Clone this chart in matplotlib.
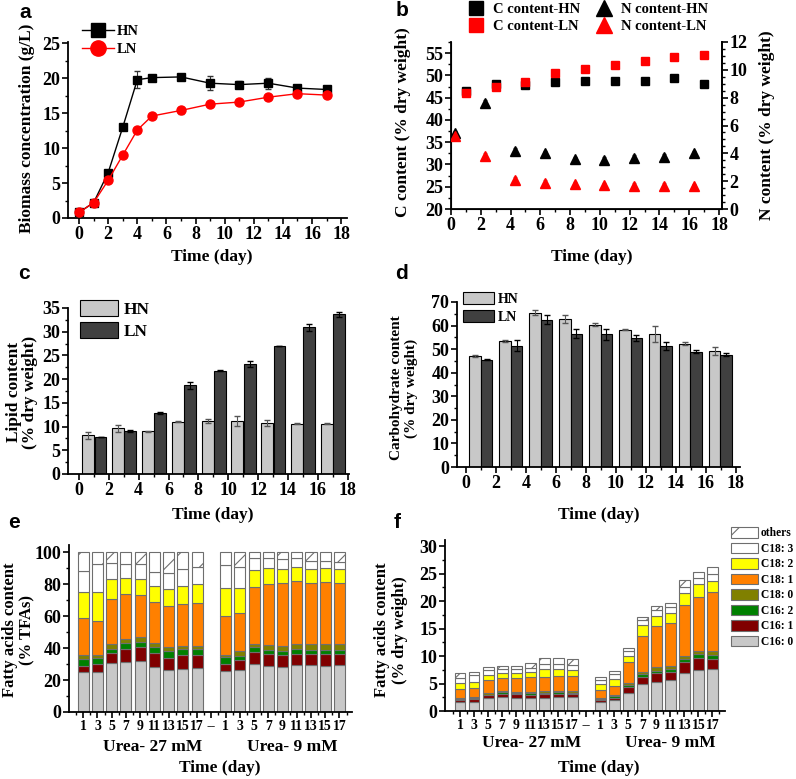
import numpy as np
import matplotlib
matplotlib.use('Agg')
import matplotlib.pyplot as plt
from matplotlib.ticker import MultipleLocator, FixedLocator
from matplotlib.patches import Patch
from matplotlib.lines import Line2D

plt.rcParams['font.family'] = ['Liberation Serif', 'DejaVu Serif']
plt.rcParams['font.weight'] = 'bold'
plt.rcParams['axes.labelweight'] = 'bold'
plt.rcParams['hatch.linewidth'] = 0.8
plt.rcParams['hatch.color'] = '#555555'

# ---------------- data ----------------
# (a) biomass
days_a = [0, 1, 2, 3, 4, 5, 7, 9, 11, 13, 15, 17]
biomass_hn = [0.8, 2.2, 6.5, 13.0, 19.8, 20.1, 20.2, 19.3, 19.1, 19.3, 18.6, 18.4]
biomass_hn_err = [0.1, 0.2, 0.2, 0.2, 1.2, 0.2, 0.2, 1.0, 0.5, 0.8, 0.3, 0.2]
biomass_ln = [0.8, 2.2, 5.4, 9.0, 12.6, 14.6, 15.4, 16.3, 16.6, 17.3, 17.8, 17.6]
biomass_ln_err = [0.1, 0.2, 0.2, 0.2, 0.2, 0.2, 0.5, 0.3, 0.2, 0.2, 0.3, 0.2]

# (b) C and N content
days_c = [1, 3, 5, 7, 9, 11, 13, 15, 17]
c_hn = [46.6, 48.1, 47.8, 48.6, 48.8, 48.8, 48.8, 49.5, 48.1]
c_ln = [46.0, 47.4, 48.6, 50.5, 51.5, 52.3, 53.3, 54.2, 54.6]
days_n = [0.3, 2.3, 4.3, 6.3, 8.3, 10.3, 12.3, 14.3, 16.3]
n_hn = [5.44, 7.64, 4.19, 4.0, 3.57, 3.52, 3.69, 3.76, 4.0]
n_ln = [5.24, 3.81, 2.08, 1.85, 1.77, 1.70, 1.68, 1.68, 1.63]

# (c) lipid, (d) carbohydrate
bar_days = [1, 3, 5, 7, 9, 11, 13, 15, 17]
lipid_hn = [8.15, 9.6, 9.0, 11.0, 11.2, 11.2, 10.75, 10.6, 10.6]
lipid_hn_err = [0.7, 0.7, 0.1, 0.1, 0.4, 1.0, 0.6, 0.15, 0.15]
lipid_ln = [7.8, 9.1, 12.9, 18.7, 21.8, 23.2, 27.0, 30.9, 33.7]
lipid_ln_err = [0.1, 0.15, 0.15, 0.8, 0.1, 0.7, 0.05, 0.7, 0.5]
carb_hn = [47.2, 53.5, 65.4, 62.8, 60.4, 58.3, 56.5, 52.3, 49.2]
carb_hn_err = [0.4, 0.4, 1.1, 1.5, 0.5, 0.3, 3.3, 0.7, 1.8]
carb_ln = [45.5, 51.5, 62.5, 56.6, 56.3, 54.8, 51.3, 49.0, 47.7]
carb_ln_err = [0.3, 2.3, 2.0, 2.0, 2.3, 1.3, 1.6, 0.8, 0.6]

# (e) fatty acids, % TFAs ; first 9 = Urea 27 mM, last 9 = Urea 9 mM
fa_names = ['C16: 0', 'C16: 1', 'C16: 2', 'C18: 0', 'C18: 1', 'C18: 2', 'C18: 3', 'others']
fa_colors = ['#c8c8c8', '#800000', '#008000', '#808000', '#ff8000', '#ffff00', '#ffffff', '#ffffff']
e_c160 = [24.9, 24.9, 30.8, 31.4, 31.8, 28.2, 26.2, 27.2, 27.6, 25.5, 26.6, 30.3, 28.9, 28.2, 29.3, 29.3, 28.9, 29.7]
e_c161 = [4.2, 5.4, 6.4, 8.3, 8.6, 9.0, 7.9, 8.4, 8.0, 4.4, 5.8, 7.4, 7.3, 7.4, 7.3, 6.9, 7.3, 6.9]
e_c162 = [3.8, 3.8, 2.1, 3.8, 3.5, 3.6, 4.0, 4.1, 4.1, 4.6, 2.7, 2.7, 2.5, 2.7, 2.7, 2.9, 2.9, 2.5]
e_c180 = [3.1, 1.9, 3.0, 2.5, 2.8, 2.7, 2.3, 1.7, 1.7, 1.1, 3.0, 2.5, 3.1, 3.1, 3.0, 3.2, 3.2, 3.2]
e_c181 = [23.0, 21.3, 28.2, 27.6, 26.5, 25.1, 25.9, 26.0, 26.6, 24.7, 24.2, 35.1, 38.3, 39.1, 39.7, 38.7, 38.9, 38.7]
e_c182 = [16.3, 18.0, 12.6, 10.1, 10.1, 10.5, 10.7, 11.7, 12.1, 17.5, 15.5, 10.9, 9.9, 9.0, 9.0, 8.5, 8.8, 8.5]
e_c183 = [13.2, 17.2, 10.0, 9.0, 9.4, 8.8, 9.8, 10.2, 10.5, 14.3, 13.2, 7.3, 6.2, 6.1, 5.2, 5.3, 4.8, 4.2]
e_other = [11.5, 7.5, 6.9, 7.3, 7.3, 12.1, 13.2, 10.7, 9.4, 7.9, 9.0, 3.8, 3.8, 4.4, 3.8, 5.2, 5.2, 6.3]

# (f) fatty acids, % dry weight
f_c160 = [1.7, 1.7, 2.36, 2.48, 2.42, 2.3, 2.42, 2.48, 2.55, 1.58, 2.0, 3.33, 4.85, 5.33, 5.64, 6.85, 7.45, 7.58]
f_c161 = [0.24, 0.42, 0.49, 0.67, 0.61, 0.67, 0.67, 0.61, 0.54, 0.36, 0.42, 1.09, 1.39, 1.52, 1.51, 2.0, 2.25, 1.81]
f_c162 = [0.26, 0.24, 0.12, 0.24, 0.24, 0.24, 0.24, 0.30, 0.24, 0.18, 0.25, 0.37, 0.43, 0.48, 0.49, 0.54, 0.6, 0.79]
f_c180 = [0.22, 0.24, 0.24, 0.25, 0.25, 0.24, 0.31, 0.25, 0.31, 0.18, 0.23, 0.24, 0.48, 0.61, 0.54, 0.61, 0.6, 0.79]
f_c181 = [1.58, 1.52, 2.37, 2.36, 2.48, 2.79, 2.6, 2.72, 2.72, 1.5, 1.7, 3.82, 6.55, 7.51, 7.88, 9.3, 9.8, 10.73]
f_c182 = [1.15, 1.21, 0.9, 0.97, 0.85, 0.85, 1.46, 1.28, 1.09, 1.08, 1.22, 1.21, 1.94, 1.82, 1.82, 2.1, 2.4, 1.9]
f_c183 = [0.91, 1.15, 0.97, 0.73, 0.73, 0.79, 0.78, 0.91, 0.91, 0.82, 0.91, 0.91, 0.91, 1.09, 1.09, 1.2, 1.0, 1.3]
f_other = [0.79, 0.67, 0.49, 0.48, 0.6, 0.79, 1.22, 1.03, 1.03, 0.54, 0.6, 0.42, 0.6, 0.79, 0.61, 1.2, 1.1, 1.2]

fa_ticklabels = ['1', '3', '5', '7', '9', '11', '13', '15', '17', '--',
                 '1', '3', '5', '7', '9', '11', '13', '15', '17']

# ---------------- figure ----------------
W, H = 796, 779
fig = plt.figure(figsize=(W / 100, H / 100), dpi=100)


def add_axes(l, t, r, b):
    return fig.add_axes([l / W, 1 - b / H, (r - l) / W, (b - t) / H])


def style(ax, xmaj, xmin, ymaj, ymin, labelsize=13, right=False):
    ax.spines['top'].set_visible(False)
    ax.spines['right'].set_visible(right)
    for s in ['left', 'bottom', 'right']:
        ax.spines[s].set_linewidth(1.3)
    if xmaj is not None:
        ax.xaxis.set_major_locator(MultipleLocator(xmaj))
        ax.xaxis.set_minor_locator(MultipleLocator(xmin))
    ax.yaxis.set_major_locator(MultipleLocator(ymaj))
    ax.yaxis.set_minor_locator(MultipleLocator(ymin))
    ax.tick_params(which='major', direction='out', length=4, width=1.2,
                   labelsize=labelsize, pad=1.5)
    ax.tick_params(which='minor', direction='out', length=2.5, width=1.0)


def ftext(x, y, s, **kw):
    fig.text(x / W, 1 - y / H, s, **kw)


# ----- (a) -----
ax = add_axes(68, 42, 347, 218)
ax.errorbar(days_a, biomass_hn, yerr=biomass_hn_err, color='black', marker='s',
            ms=6, lw=1.0, capsize=2, elinewidth=0.8, ecolor='#333333', zorder=3)
ax.errorbar(days_a, biomass_ln, yerr=biomass_ln_err, color='#ff0000', marker='o',
            ms=6.5, lw=1.0, capsize=2, elinewidth=0.8, ecolor='#888888', zorder=3)
ax.set_xlim(-0.76, 18.4)
ax.set_ylim(0, 25.2)
style(ax, 2, 1, 5, 2.5)
ha = [Line2D([], [], color='black', marker='s', ms=10, lw=1.0),
      Line2D([], [], color='#ff0000', marker='o', ms=11, lw=1.0)]
fig.legend(ha, ['HN', 'LN'], loc='upper left', bbox_to_anchor=(82 / W, 1 - 25 / H),
           frameon=False, fontsize=10.5, handlelength=2.2, handletextpad=0.2,
           labelspacing=0.3, borderpad=0, borderaxespad=0)
ftext(212, 257, 'Time (day)', fontsize=12.5, ha='center', va='center')
ftext(27, 128, 'Biomass concentration (g/L)', fontsize=12.5, ha='center', va='center', rotation=90)

# ----- (b) -----
ax = add_axes(451, 42, 722, 209)
ax2 = ax.twinx()
ax.errorbar(days_c, c_hn, yerr=0.4, color='black', marker='s', ms=5.5, ls='none',
            capsize=1.5, elinewidth=0.7, ecolor='#555555', zorder=3)
ax.errorbar(days_c, c_ln, yerr=0.4, color='#ff0000', marker='s', ms=5.5, ls='none',
            capsize=1.5, elinewidth=0.7, ecolor='#555555', zorder=3)
ax2.errorbar(days_n, n_hn, yerr=0.2, color='black', marker='^', ms=6.5, ls='none',
             capsize=1.5, elinewidth=0.7, ecolor='#555555', zorder=3)
ax2.errorbar(days_n, n_ln, yerr=0.2, color='#ff0000', marker='^', ms=6.5, ls='none',
             capsize=1.5, elinewidth=0.7, ecolor='#999999', zorder=3)
ax.set_xlim(0, 18.2)
ax.set_ylim(20, 57.5)
ax2.set_ylim(0, 12)
style(ax, 2, 1, 5, 2.5, right=True)
ax2.spines['top'].set_visible(False)
ax2.spines['right'].set_linewidth(1.3)
ax2.yaxis.set_major_locator(MultipleLocator(2))
ax2.yaxis.set_minor_locator(MultipleLocator(0.5))
ax2.tick_params(which='major', direction='out', length=4, width=1.2, labelsize=13, pad=1.5)
ax2.tick_params(which='minor', direction='out', length=2.5, width=1.0)
hb1 = [Line2D([], [], color='black', marker='s', ms=9.5, ls='none'),
       Line2D([], [], color='#ff0000', marker='s', ms=9.5, ls='none')]
hb2 = [Line2D([], [], color='black', marker='^', ms=12, ls='none'),
       Line2D([], [], color='#ff0000', marker='^', ms=12, ls='none')]
fig.legend(hb1, ['C content-HN', 'C content-LN'], loc='upper left',
           bbox_to_anchor=(465 / W, 1 - 3 / H), frameon=False, fontsize=10.5,
           handlelength=1.5, handletextpad=0.45, labelspacing=0.25, borderpad=0, borderaxespad=0)
fig.legend(hb2, ['N content-HN', 'N content-LN'], loc='upper left',
           bbox_to_anchor=(593 / W, 1 - 3 / H), frameon=False, fontsize=10.5,
           handlelength=1.5, handletextpad=0.45, labelspacing=0.25, borderpad=0, borderaxespad=0)
ftext(592, 257, 'Time (day)', fontsize=12.5, ha='center', va='center')
ftext(403, 122, 'C content (% dry weight)', fontsize=12.5, ha='center', va='center', rotation=90)
ftext(767, 125, 'N content (% dry weight)', fontsize=12.5, ha='center', va='center', rotation=90)

# ----- (c) -----
ax = add_axes(68, 308, 349, 474)
xc = np.array(bar_days, dtype=float)
ax.bar(xc - 0.38, lipid_hn, width=0.8, color='#c8c8c8', edgecolor='black', lw=0.8,
       yerr=lipid_hn_err, capsize=2, error_kw=dict(elinewidth=0.8, ecolor='#555555'))
ax.bar(xc + 0.44, lipid_ln, width=0.8, color='#404040', edgecolor='black', lw=0.8,
       yerr=lipid_ln_err, capsize=2, error_kw=dict(elinewidth=0.8, ecolor='black'))
ax.set_xlim(-0.74, 18.1)
ax.set_ylim(0, 35)
style(ax, 2, 1, 5, 2.5)
hc = [Patch(facecolor='#c8c8c8', edgecolor='black', lw=0.8),
      Patch(facecolor='#404040', edgecolor='black', lw=0.8)]
fig.legend(hc, ['HN', 'LN'], loc='upper left', bbox_to_anchor=(80 / W, 1 - 300 / H),
           frameon=False, fontsize=12.5, handlelength=2.2, handleheight=1.05,
           handletextpad=0.3, labelspacing=0.25, borderpad=0, borderaxespad=0)
ftext(213, 515, 'Time (day)', fontsize=12.5, ha='center', va='center')
ftext(22, 392, 'Lipid content\n(% dry weight)', fontsize=12.5, ha='center', va='center',
      rotation=90, multialignment='center', linespacing=1.05)

# ----- (d) -----
ax = add_axes(457, 302, 740, 467)
ax.bar(xc - 0.4, carb_hn, width=0.78, color='#c8c8c8', edgecolor='black', lw=0.8,
       yerr=carb_hn_err, capsize=2, error_kw=dict(elinewidth=0.8, ecolor='#555555'))
ax.bar(xc + 0.38, carb_ln, width=0.78, color='#404040', edgecolor='black', lw=0.8,
       yerr=carb_ln_err, capsize=2, error_kw=dict(elinewidth=0.8, ecolor='black'))
ax.set_xlim(-0.6, 18.3)
ax.set_ylim(0, 70)
style(ax, 2, 1, 10, 5)
fig.legend(hc, ['HN', 'LN'], loc='upper left', bbox_to_anchor=(463 / W, 1 - 292 / H),
           frameon=False, fontsize=10, handlelength=2.2, handleheight=1.0,
           handletextpad=0.3, labelspacing=0.29, borderpad=0, borderaxespad=0)
ftext(599, 515, 'Time (day)', fontsize=12.5, ha='center', va='center')
ftext(404, 388, 'Carbohydrate content\n(% dry weight)', fontsize=11, ha='center', va='center',
      rotation=90, multialignment='center', linespacing=1.1)


# ----- (e) & (f) stacked -----
def stacked(ax, series):
    pos = np.array(list(range(0, 9)) + list(range(10, 19)), dtype=float)
    bottom = np.zeros(len(pos))
    for vals, col, name in zip(series, fa_colors, fa_names):
        vals = np.array(vals)
        hatch = '/' if name == 'others' else None
        ax.bar(pos, vals, bottom=bottom, width=0.78, color=col, edgecolor='#6e6e6e',
               lw=0.8, hatch=hatch, label=name)
        bottom += vals
    ax.set_xticks(range(19))
    ax.set_xticklabels(fa_ticklabels)
    ax.xaxis.set_minor_locator(FixedLocator(np.arange(-0.5, 19, 1.0)))


ax = add_axes(69, 545, 352, 712)
stacked(ax, [e_c160, e_c161, e_c162, e_c180, e_c181, e_c182, e_c183, e_other])
ax.set_xlim(-1.0, 18.88)
ax.set_ylim(0, 104.6)
style(ax, None, None, 20, 10)
ax.tick_params(axis='x', which='major', labelsize=10, pad=2)
ftext(153, 747, 'Urea- 27 mM', fontsize=12.5, ha='center', va='center')
ftext(292, 747, 'Urea- 9 mM', fontsize=12.5, ha='center', va='center')
ftext(220, 768, 'Time (day)', fontsize=12.5, ha='center', va='center')
ftext(19, 630, 'Fatty acids content\n(% TFAs)', fontsize=12, ha='center', va='center',
      rotation=90, multialignment='center', linespacing=1.1)

ax = add_axes(445, 540, 725, 711)
stacked(ax, [f_c160, f_c161, f_c162, f_c180, f_c181, f_c182, f_c183, f_other])
ax.set_xlim(-1.07, 18.9)
ax.set_ylim(0, 31.1)
style(ax, None, None, 5, 2.5)
ax.tick_params(axis='x', which='major', labelsize=10, pad=2)
hf, lf = ax.get_legend_handles_labels()
fig.legend(hf[::-1], lf[::-1], loc='upper left', bbox_to_anchor=(731 / W, 1 - 527 / H),
           frameon=False, fontsize=8.3, handlelength=2.3, handleheight=1.05,
           handletextpad=0.3, labelspacing=0.28, borderpad=0, borderaxespad=0)
ftext(532, 743, 'Urea- 27 mM', fontsize=12.5, ha='center', va='center')
ftext(670, 743, 'Urea- 9 mM', fontsize=12.5, ha='center', va='center')
ftext(599, 768, 'Time (day)', fontsize=12.5, ha='center', va='center')
ftext(391, 630, 'Fatty acids content\n(% dry weight)', fontsize=12, ha='center', va='center',
      rotation=90, multialignment='center', linespacing=1.1)

# panel letters
for lab, x, y in [('a', 25, 12), ('b', 402, 11), ('c', 24, 273), ('d', 402, 273),
                  ('e', 14, 522), ('f', 397, 522)]:
    fig.text(x / W, 1 - y / H, lab, fontsize=15, ha='center', va='center',
             family=['Liberation Sans', 'DejaVu Sans'], weight='bold')

fig.savefig('out.png', dpi=100)
